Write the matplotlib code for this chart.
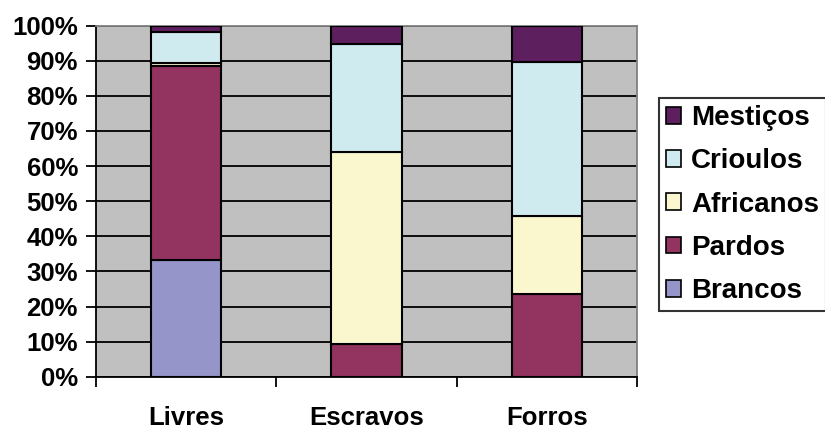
import matplotlib
matplotlib.use("Agg")
import matplotlib.pyplot as plt
import numpy as np
from matplotlib.patches import Patch

plt.rcParams['font.family'] = ['Liberation Sans', 'DejaVu Sans']

categories = ["Livres", "Escravos", "Forros"]
series_names = ["Brancos", "Pardos", "Africanos", "Crioulos", "Mestiços"]
brancos = [33.2, 0.0, 0.0]
pardos = [55.3, 9.4, 23.6]
africanos = [0.8, 54.6, 22.2]
crioulos = [9.0, 30.8, 43.9]
mesticos = [1.7, 5.2, 10.3]
colors = ["#9595C9", "#93335F", "#FAF7CF", "#CFEBEF", "#5E1F5E"]
y_ticks = [0, 10, 20, 30, 40, 50, 60, 70, 80, 90, 100]
y_tick_labels = [f"{v}%" for v in y_ticks]

values = [brancos, pardos, africanos, crioulos, mesticos]

fig = plt.figure(figsize=(8.25, 4.30), dpi=100)
ax = fig.add_axes([96 / 825, 1 - 376.7 / 430, (637 - 96) / 825, (376.7 - 25.7) / 430])
ax.set_facecolor("#C0C0C0")

x = np.arange(len(categories))
bottom = np.zeros(len(categories))
for name, vals, col in zip(series_names, values, colors):
    v = np.array(vals)
    ax.bar(x, v, width=0.39, bottom=bottom, color=col, edgecolor="black",
           linewidth=1.5, zorder=3)
    bottom += v

ax.set_xlim(-0.5, len(categories) - 0.5)
ax.set_ylim(0, 100)

ax.set_yticks(y_ticks)
ax.set_yticklabels(y_tick_labels, fontsize=18.5, fontweight="bold")
ax.yaxis.grid(True, color="black", linewidth=1.3, zorder=1)
ax.set_axisbelow(True)

# category labels centered under bars, tick marks at category boundaries
ax.set_xticks(x)
ax.set_xticklabels(categories, fontsize=18.5, fontweight="bold")
ax.tick_params(axis="x", which="major", length=0, pad=21)
ax.set_xticks(np.arange(-0.5, len(categories) + 0.5, 1.0), minor=True)
ax.tick_params(axis="x", which="minor", length=7, width=1.3, direction="out")
ax.tick_params(axis="y", length=7, width=1.3, direction="out", pad=6)

for side in ("top", "right"):
    ax.spines[side].set_color("#808080")
    ax.spines[side].set_linewidth(1.3)
for side in ("left", "bottom"):
    ax.spines[side].set_color("black")
    ax.spines[side].set_linewidth(1.3)

handles = [Patch(facecolor=c, edgecolor="black", linewidth=1.2, label=n)
           for n, c in zip(series_names, colors)][::-1]
leg = fig.legend(handles=handles, loc="lower left",
                 bbox_to_anchor=(659 / 825, 1 - 311 / 430),
                 bbox_transform=fig.transFigure,
                 prop={"size": 20, "weight": "bold"},
                 frameon=True, fancybox=False, borderpad=0.25,
                 labelspacing=0.62, handlelength=0.55, handleheight=0.55,
                 handletextpad=0.35, borderaxespad=0)
leg.get_frame().set_edgecolor("black")
leg.get_frame().set_linewidth(1.5)

fig.savefig("out.png", dpi=100)
